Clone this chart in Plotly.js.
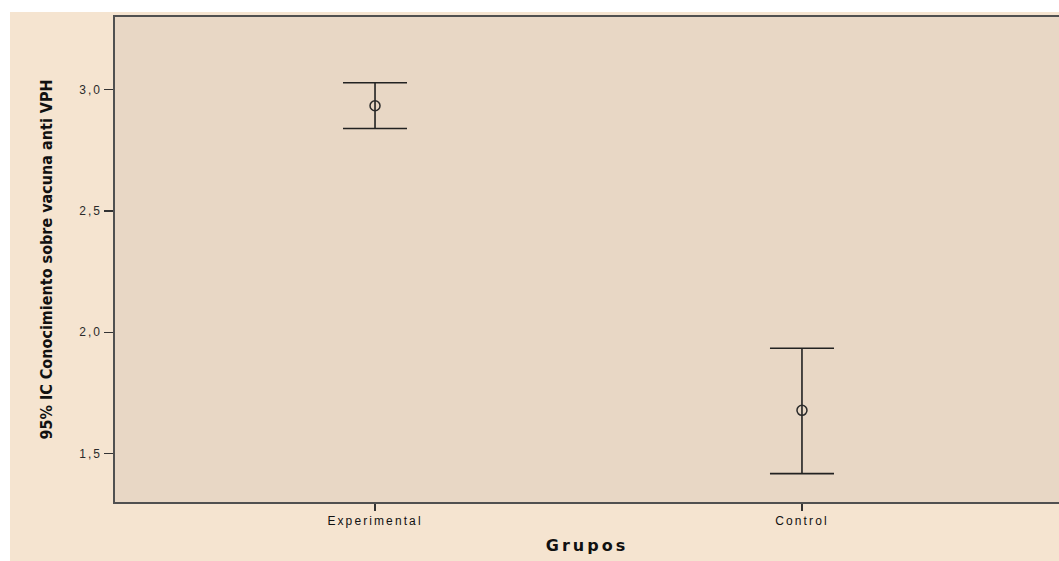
<!DOCTYPE html>
<html>
<head>
<meta charset="utf-8">
<script src="https://cdn.plot.ly/plotly-3.0.1.min.js"></script>
<style>
  html, body { margin: 0; padding: 0; background: #ffffff; }
  #chart { position: absolute; left: 10px; top: 12px; width: 1049px; height: 549px; }
  #chart g.xtick text { letter-spacing: 2.1px; }
  #chart g.ytick text { letter-spacing: 2px; }
  #chart text.xtitle { letter-spacing: 3px; }
</style>
</head>
<body>
<div id="chart"></div>
<script>
const categories = ["Experimental", "Control"];
const means = [2.934, 1.678];
const upper = [3.029, 1.934];
const lower = [2.840, 1.417];
const yTicks = [1.5, 2.0, 2.5, 3.0];

const errPlus = means.map((m, i) => upper[i] - m);
const errMinus = means.map((m, i) => m - lower[i]);

const trace = {
  type: "scatter",
  mode: "markers",
  x: categories,
  y: means,
  marker: { symbol: "circle-open", size: 10, color: "#2a2a2a", line: { width: 1.5, color: "#2a2a2a" } },
  error_y: {
    type: "data",
    symmetric: false,
    array: errPlus,
    arrayminus: errMinus,
    color: "#222222",
    thickness: 1.6,
    width: 32
  },
  hoverinfo: "skip",
  showlegend: false
};

const layout = {
  width: 1049,
  height: 549,
  margin: { l: 105, r: 0, t: 5, b: 59 },
  paper_bgcolor: "#F5E4D0",
  plot_bgcolor: "#E8D7C5",
  separators: ",.",
  font: { family: "Liberation Sans, Arial, sans-serif", color: "#333333", size: 12 },
  xaxis: {
    type: "category",
    range: [-0.609, 1.602],
    showgrid: false,
    zeroline: false,
    showline: true,
    linecolor: "#505050",
    linewidth: 1.6,
    mirror: true,
    ticks: "outside",
    ticklen: 7,
    tickwidth: 1.3,
    tickcolor: "#333333",
    tickfont: { size: 12, color: "#111111", family: "Liberation Sans, Arial, sans-serif" },
    title: { text: "Grupos", font: { size: 16, color: "#111111", family: "DejaVu Sans, Liberation Sans, Arial, sans-serif", weight: "bold" }, standoff: 13 }
  },
  yaxis: {
    range: [1.30, 3.30],
    tickvals: yTicks,
    tickformat: ".1f",
    showgrid: false,
    zeroline: false,
    showline: true,
    linecolor: "#505050",
    linewidth: 1.6,
    ticks: "outside",
    ticklen: 9,
    tickwidth: 1.3,
    tickcolor: "#333333",
    tickfont: { size: 12, color: "#2a2a2a", family: "Liberation Sans, Arial, sans-serif" },
    title: { text: "95% IC Conocimiento sobre vacuna anti VPH", font: { size: 16, color: "#111111", family: "DejaVu Sans Condensed, Liberation Sans Narrow, Liberation Sans, sans-serif", weight: "bold" }, standoff: 29 }
  }
};

Plotly.newPlot("chart", [trace], layout, { displayModeBar: false, staticPlot: true });
</script>
</body>
</html>
